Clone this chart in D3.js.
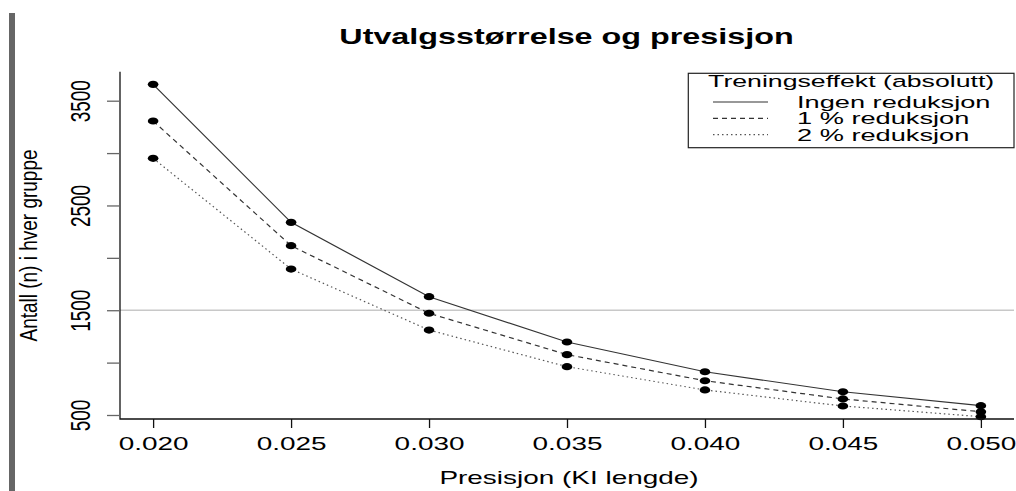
<!DOCTYPE html>
<html>
<head>
<meta charset="utf-8">
<script src="https://cdn.jsdelivr.net/npm/d3@7/dist/d3.min.js"></script>
<style>
  html, body { margin: 0; padding: 0; background: #fff; }
  svg { display: block; }
  text { font-family: "Liberation Sans", Arial, sans-serif; fill: #000; }
</style>
</head>
<body>
<svg id="chart" width="1016" height="491"></svg>
<script>
// ---- data ----
const precision = [0.020, 0.025, 0.030, 0.035, 0.040, 0.045, 0.050];
const ingenReduksjon = [3656, 2339, 1629, 1197, 913, 722, 589];
const reduksjon1 = [3306, 2116, 1471, 1076, 827, 653, 531];
const reduksjon2 = [2950, 1893, 1311, 961, 739, 586, 484];
const seriesNames = ["Ingen reduksjon", "1 % reduksjon", "2 % reduksjon"];
const xTickValues = [0.020, 0.025, 0.030, 0.035, 0.040, 0.045, 0.050];
const yTickValues = [500, 1000, 1500, 2000, 2500, 3000, 3500];
const yLabelValues = [500, 1500, 2500, 3500];
const refLineValue = 1500;

const chartTitle = "Utvalgsstørrelse og presisjon";
const xTitle = "Presisjon (KI lengde)";
const yTitle = "Antall (n) i hver gruppe";
const legendTitle = "Treningseffekt (absolutt)";

// ---- layout ----
const SX = 1.47; // horizontal stretch of the original picture
const svg = d3.select("#chart");
const pLeft = 120, pRight = 1014, pTop = 71.7, pBottom = 419;

const x = d3.scaleLinear().domain([0.0188, 0.0512]).range([pLeft, pRight]);
const y = d3.scaleLinear().domain([461.8, 3776.8]).range([pBottom, pTop]);

// left gray bar
svg.append("rect").attr("x", 9).attr("y", 13).attr("width", 6).attr("height", 478).attr("fill", "#666");

// reference line
svg.append("line")
  .attr("x1", pLeft).attr("x2", pRight)
  .attr("y1", y(refLineValue)).attr("y2", y(refLineValue))
  .attr("stroke", "#c8c8c8").attr("stroke-width", 1.5);

// series
const series = [
  { name: seriesNames[0], values: ingenReduksjon, dash: null, color: "#333", width: 1.2 },
  { name: seriesNames[1], values: reduksjon1, dash: "5,4", color: "#333", width: 1.2 },
  { name: seriesNames[2], values: reduksjon2, dash: "1.5,3", color: "#555", width: 1.2 }
];

const line = d3.line().x((d, i) => x(precision[i])).y(d => y(d));

series.forEach(s => {
  svg.append("path")
    .attr("d", line(s.values))
    .attr("fill", "none")
    .attr("stroke", s.color)
    .attr("stroke-width", s.width)
    .attr("stroke-dasharray", s.dash);
});
series.forEach(s => {
  svg.append("g").selectAll("ellipse").data(s.values).join("ellipse")
    .attr("cx", (d, i) => x(precision[i]))
    .attr("cy", d => y(d))
    .attr("rx", 5.3).attr("ry", 3.6)
    .attr("fill", "#000");
});

// box (L shape)
svg.append("path")
  .attr("d", `M${pLeft},${pTop}V${pBottom}H${pRight}`)
  .attr("fill", "none").attr("stroke", "#111").attr("stroke-width", 1.3);

// x axis
const xAxis = svg.append("g")
  .attr("transform", `translate(0,${pBottom})`)
  .call(d3.axisBottom(x).tickValues(xTickValues).tickSize(9).tickSizeOuter(0).tickFormat(d3.format(".3f")));
xAxis.select(".domain").remove();
xAxis.selectAll("line").attr("stroke", "#111").attr("stroke-width", 1.3);
xAxis.selectAll("text")
  .attr("y", null).attr("dy", null)
  .attr("transform", `translate(0,31) scale(${SX},1)`)
  .attr("font-size", 19).attr("font-family", "Liberation Sans, Arial, sans-serif").attr("fill", "#000");

// y axis
const yAxis = svg.append("g")
  .attr("transform", `translate(${pLeft},0)`)
  .call(d3.axisLeft(y).tickValues(yTickValues).tickSize(13).tickSizeOuter(0)
    .tickFormat(d => yLabelValues.includes(d) ? String(d) : ""));
yAxis.select(".domain").remove();
yAxis.selectAll("line").attr("stroke", "#666").attr("stroke-width", 1.3);
yAxis.selectAll("text")
  .attr("x", null).attr("dy", null)
  .attr("text-anchor", "middle")
  .attr("transform", `translate(-30,0) scale(${SX},1) rotate(-90)`)
  .attr("font-size", 19).attr("font-family", "Liberation Sans, Arial, sans-serif").attr("fill", "#000");

// helper for stretched text
function stretchedText(tx, ty, str, opts = {}) {
  const g = svg.append("g").attr("transform", `translate(${tx},${ty}) scale(${opts.sx || SX},1)` + (opts.rotate ? ` rotate(${opts.rotate})` : ""));
  return g.append("text")
    .attr("text-anchor", opts.anchor || "middle")
    .attr("font-size", opts.size || 19)
    .attr("font-weight", opts.weight || "normal")
    .text(str);
}

// titles
stretchedText(566.5, 44.3, chartTitle, { size: 22, weight: "bold" });
stretchedText(569, 484.3, xTitle, { size: 19 });
stretchedText(37, 245.5, yTitle, { size: 19, rotate: -90, sx: 1.3 });

// legend
const lgLeft = 688.3, lgTop = 73.3, lgRight = pRight, lgBottom = 147.7;
svg.append("rect")
  .attr("x", lgLeft).attr("y", lgTop)
  .attr("width", lgRight - lgLeft).attr("height", lgBottom - lgTop)
  .attr("fill", "#fff").attr("stroke", "#222").attr("stroke-width", 1.2);
stretchedText((lgLeft + lgRight) / 2, 86.5, legendTitle, { size: 17, sx: 1.57 });
series.forEach((s, i) => {
  const ly = 102 + i * 16.3;
  svg.append("line")
    .attr("x1", 713).attr("x2", 768).attr("y1", ly).attr("y2", ly)
    .attr("stroke", s.color).attr("stroke-width", s.width)
    .attr("stroke-dasharray", s.dash);
  stretchedText(797, ly + 6, s.name, { size: 17, anchor: "start", sx: 1.6 });
});
</script>
</body>
</html>
